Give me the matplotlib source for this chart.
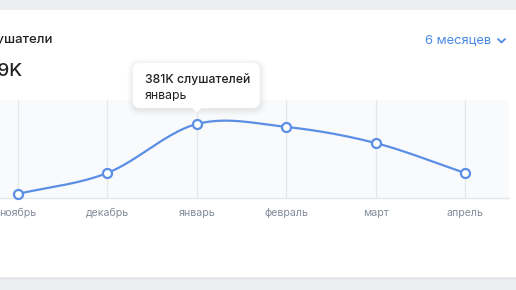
import numpy as np
import matplotlib
matplotlib.use("Agg")
import matplotlib.pyplot as plt
from matplotlib.patches import FancyBboxPatch, Rectangle, Polygon

# ---------------- data ----------------
months = ["ноябрь", "декабрь", "январь", "февраль", "март", "апрель"]
listeners_k = [21, 129, 381, 366, 283, 129]
highlight_idx = 2
title_text = "Слушатели"
total_text = "379K"
period_text = "6 месяцев"
unit_text = "слушателей"

FONT = ["Inter", "DejaVu Sans"]
plt.rcParams["font.family"] = FONT

W, H = 516, 290
fig = plt.figure(figsize=(W / 100, H / 100), dpi=100)
fig.patch.set_facecolor("#ebedf0")

# background / card layer (pixel coordinates, y downward)
bg = fig.add_axes([0, 0, 1, 1], zorder=0)
bg.set_xlim(0, W)
bg.set_ylim(H, 0)
bg.axis("off")
bg.add_patch(Rectangle((-10, 10), W + 20, 267, facecolor="white", edgecolor="none"))
bg.plot([0, W], [277.5, 277.5], color="#dfe1e5", lw=1)

bg.text(53, 40, title_text, ha="right", va="center", fontsize=9.5,
        color="#222222", fontweight="medium")
bg.text(23, 71, total_text, ha="right", va="center", fontsize=13.5,
        color="#222222", fontweight="medium")
bg.text(491, 40, period_text, ha="right", va="center", fontsize=9.3,
        color="#4a8ae6")
bg.plot([498, 501.5, 505], [39, 42.5, 39], color="#4a8ae6", lw=1.3,
        solid_capstyle="round", solid_joinstyle="round")

# ---------------- chart ----------------
ax = fig.add_axes([0, (H - 198) / H, 509 / W, 98 / H], zorder=1)
ax.set_facecolor("#f9fafb")
x = np.arange(len(months))
step = 89.4
ax.set_xlim(-18 / step, (509 - 18) / step)
ax.set_ylim(0, 504.6)
for s in ["top", "left", "right"]:
    ax.spines[s].set_visible(False)
ax.spines["bottom"].set_color("#e4e6ea")
ax.spines["bottom"].set_linewidth(1)
ax.set_yticks([])
ax.set_xticks(x)
ax.set_xticklabels(months)
ax.tick_params(axis="x", length=0, pad=7, labelsize=7.6, labelcolor="#818c99")
ax.grid(axis="x", color="#e6e7ea", lw=0.9)
ax.set_axisbelow(True)


def catmull_rom(xs, ys, n=30):
    xs = np.asarray(xs, float)
    ys = np.asarray(ys, float)
    px = np.concatenate([[2 * xs[0] - xs[1]], xs, [2 * xs[-1] - xs[-2]]])
    py = np.concatenate([[2 * ys[0] - ys[1]], ys, [2 * ys[-1] - ys[-2]]])
    outx, outy = [], []
    t = np.linspace(0, 1, n)
    for i in range(1, len(px) - 2):
        for P, out in ((px, outx), (py, outy)):
            p0, p1, p2, p3 = P[i - 1], P[i], P[i + 1], P[i + 2]
            seg = 0.5 * ((2 * p1) + (-p0 + p2) * t
                         + (2 * p0 - 5 * p1 + 4 * p2 - p3) * t ** 2
                         + (-p0 + 3 * p1 - 3 * p2 + p3) * t ** 3)
            out.extend(seg)
    return np.array(outx), np.array(outy)


sx, sy = catmull_rom(x, listeners_k)
ax.plot(sx, sy, color="#5b8fe6", lw=1.6, solid_capstyle="round", zorder=3)
ax.plot(x, listeners_k, linestyle="none", marker="o", markersize=6.5,
        markerfacecolor="white", markeredgecolor="#5b8fe6",
        markeredgewidth=1.6, zorder=4, clip_on=False)

# ---------------- tooltip ----------------
ov = fig.add_axes([0, 0, 1, 1], zorder=2)
ov.set_xlim(0, W)
ov.set_ylim(H, 0)
ov.axis("off")
fig.canvas.draw()
dx, dy = ax.transData.transform((x[highlight_idx], listeners_k[highlight_idx]))
px, py = dx, H - dy
bx0, bw, bh = px - 64, 127, 45
by0 = py - 16 - bh
for k, a in enumerate([0.025, 0.02, 0.015, 0.01]):
    g = 1.5 + k * 1.5
    ov.add_patch(FancyBboxPatch((bx0 - g + 0.5, by0 - g + 1.5), bw + 2 * g, bh + 2 * g,
                                boxstyle=f"round,pad=0,rounding_size={7 + g}",
                                facecolor="black", edgecolor="none", alpha=a))
ov.add_patch(FancyBboxPatch((bx0, by0), bw, bh, boxstyle="round,pad=0,rounding_size=7",
                            facecolor="white", edgecolor="none"))
ov.add_patch(Polygon([[px - 5, by0 + bh - 0.5], [px + 5, by0 + bh - 0.5], [px, by0 + bh + 5]],
                     closed=True, facecolor="white", edgecolor="none"))
ov.text(bx0 + 12, by0 + 17, f"{listeners_k[highlight_idx]}K {unit_text}", ha="left",
        va="center", fontsize=8.8, color="#222222", fontweight="medium")
ov.text(bx0 + 12, by0 + 33, months[highlight_idx], ha="left", va="center",
        fontsize=8.8, color="#222222")

fig.savefig("out.png", dpi=100, facecolor=fig.get_facecolor())
